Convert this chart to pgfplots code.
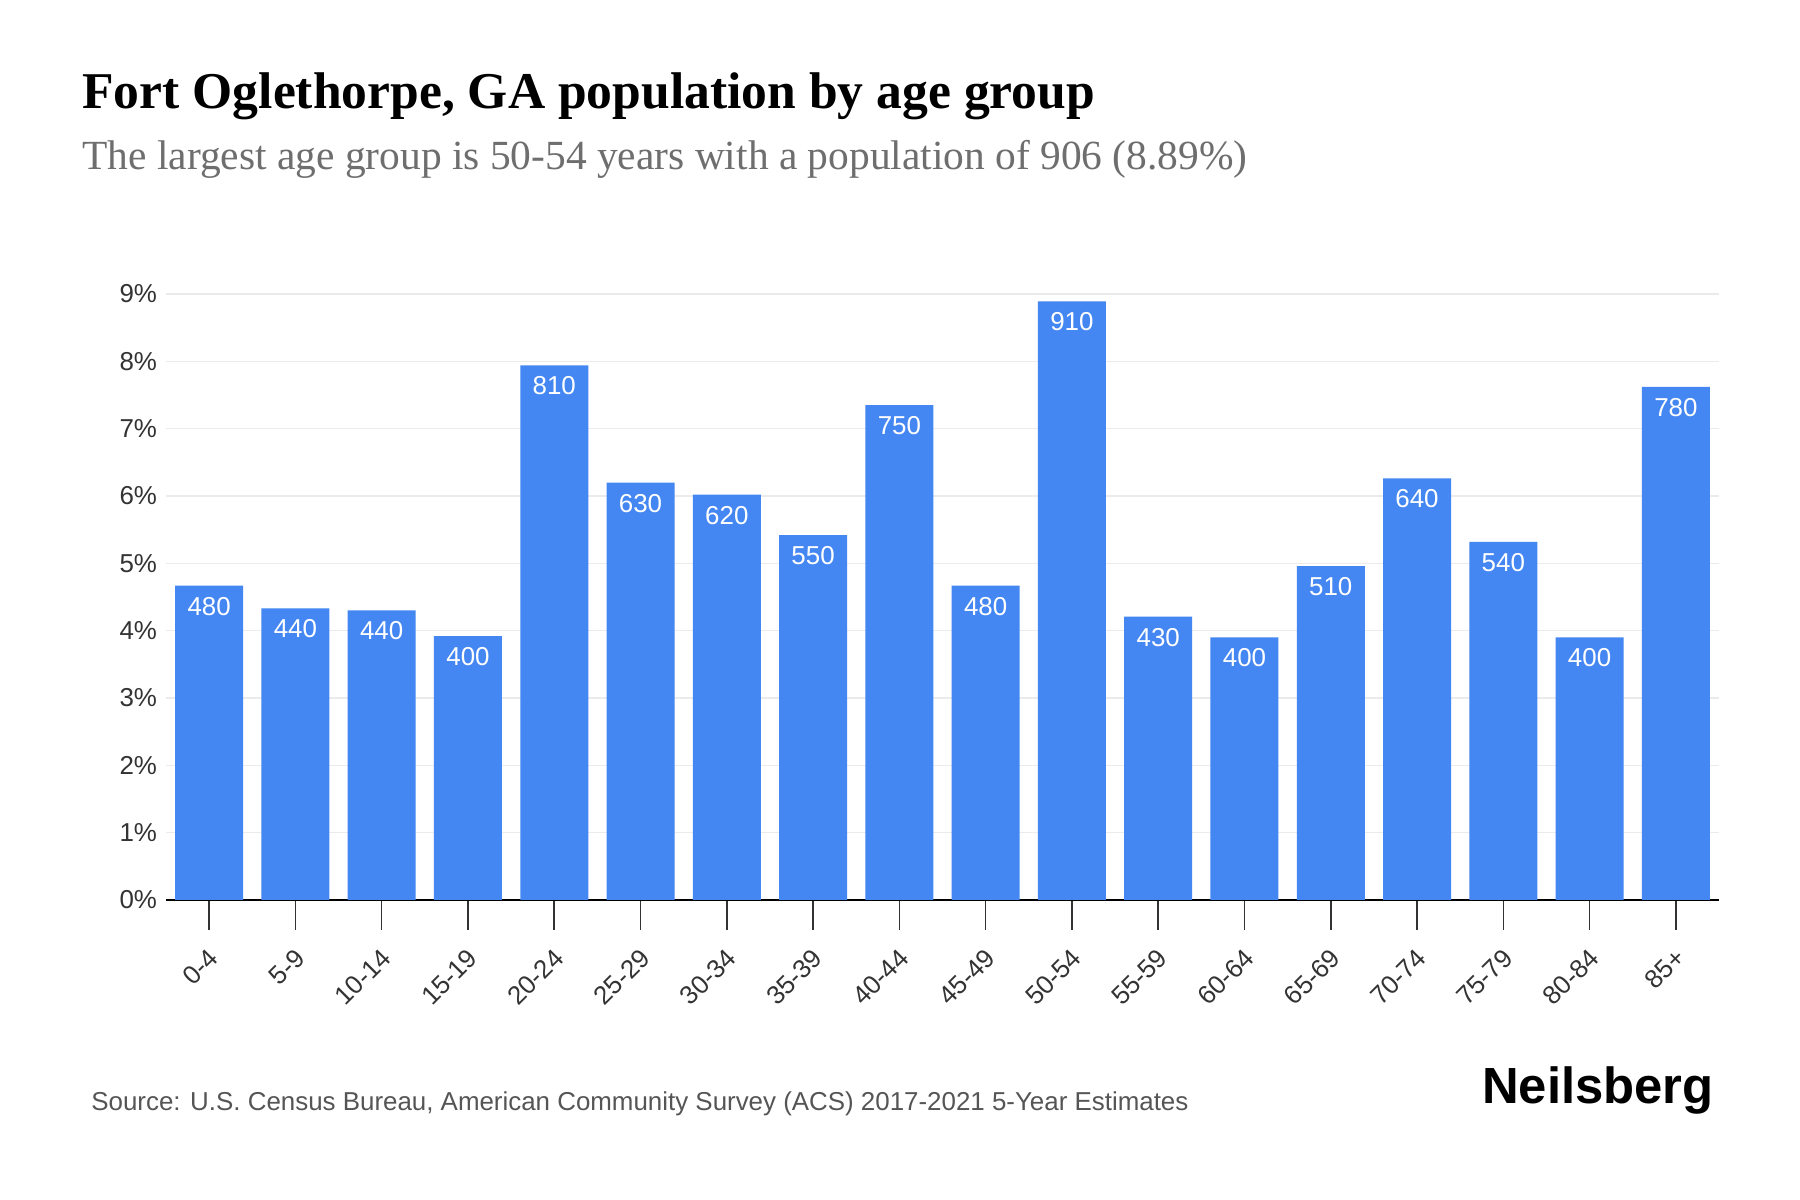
\documentclass[border=0pt]{standalone}
\usepackage{fontspec}
\usepackage{pgfplots}
\usepackage{pgfplotstable}
\pgfplotsset{compat=1.18}
\setmainfont{Liberation Sans}
\newfontfamily\titlefont{Liberation Serif}
\definecolor{barblue}{HTML}{4587F2}
\definecolor{ticktext}{HTML}{333333}
\definecolor{subgray}{HTML}{6E6E6E}
\definecolor{srcgray}{HTML}{555555}

% share of population (%) and rounded head count per age group
\pgfplotstableread{
idx pct  label
0   4.67 480
1   4.33 440
2   4.30 440
3   3.92 400
4   7.94 810
5   6.20 630
6   6.02 620
7   5.42 550
8   7.35 750
9   4.67 480
10  8.89 910
11  4.21 430
12  3.90 400
13  4.96 510
14  6.26 640
15  5.32 540
16  3.90 400
17  7.62 780
}\agedata

\begin{document}
\begin{tikzpicture}
\path[fill=white] (0,0) rectangle (900bp,600bp);

\node[anchor=base west, inner sep=0pt, font=\titlefont\bfseries\fontsize{25.9}{31}\selectfont]
  at (41bp,545.5bp) {Fort Oglethorpe, GA population by age group};
\node[anchor=base west, inner sep=0pt, text=subgray, font=\titlefont\fontsize{20.8}{25}\selectfont]
  at (41bp,515bp) {The largest age group is 50-54 years with a population of 906 (8.89\%)};

\begin{axis}[
  scale only axis,
  width=776.5bp, height=303bp,
  at={(83bp,150bp)}, anchor=south west,
  xmin=-0.5, xmax=17.5, ymin=0, ymax=9,
  ybar, bar width=34bp,
  axis lines*=left,
  y axis line style={draw=none},
  x axis line style={black, line width=1bp},
  ytick={0,1,...,9},
  yticklabel={\pgfmathprintnumber{\tick}\%},
  /pgf/number format/assume math mode=true,
  ytick style={draw=none},
  yticklabel style={font=\fontsize{13}{15}\selectfont, text=ticktext, xshift=-1bp},
  ymajorgrids,
  grid style={draw=black!8, line width=0.6bp},
  xtick={0,1,...,17},
  xticklabels={0-4,5-9,10-14,15-19,20-24,25-29,30-34,35-39,40-44,45-49,50-54,55-59,60-64,65-69,70-74,75-79,80-84,85+},
  xtick align=outside,
  major tick length=15bp,
  xtick style={draw=black!80, line width=0.8bp},
  xticklabel style={rotate=45, anchor=north east, font=\fontsize{13}{15}\selectfont, text=ticktext, inner sep=0pt, xshift=-6.5bp, yshift=-5.2bp},
  point meta=explicit symbolic,
  nodes near coords,
  nodes near coords style={anchor=north, inner sep=0pt, yshift=-5.5bp, text=white, font=\fontsize{13}{15}\selectfont},
  clip=false,
]
\addplot[fill=barblue, draw=none] table[x=idx, y=pct, meta=label] {\agedata};
\end{axis}

\node[anchor=base west, inner sep=0pt, text=srcgray, font=\fontsize{13}{16}\selectfont]
  at (45.5bp,44.5bp) {Source: U.S. Census Bureau, American Community Survey (ACS) 2017-2021 5-Year Estimates};
\node[anchor=base east, inner sep=0pt, font=\bfseries\fontsize{25.5}{30}\selectfont]
  at (857bp,48bp) {Neilsberg};
\end{tikzpicture}
\end{document}
